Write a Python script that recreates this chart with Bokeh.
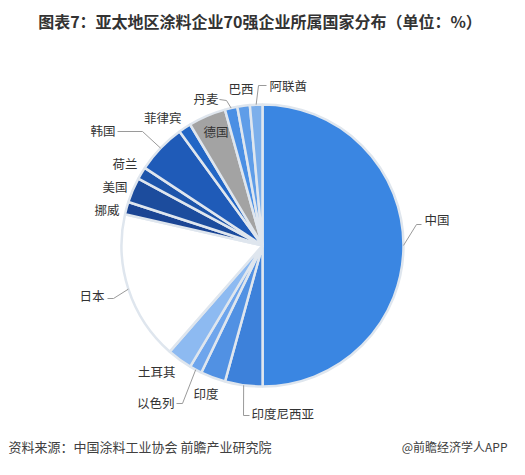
import numpy as np
from bokeh.plotting import figure
from bokeh.models import Range1d, ColumnDataSource
from bokeh.core.properties import value
from bokeh.embed import file_html
from bokeh.resources import INLINE

# ---------------- data ----------------
title_text = "图表7：亚太地区涂料企业70强企业所属国家分布（单位：%）"
source_text = "资料来源：中国涂料工业协会 前瞻产业研究院"
brand_text = "@前瞻经济学人APP"

countries = ["中国", "印度尼西亚", "印度", "以色列", "土耳其", "日本", "挪威", "美国",
             "荷兰", "韩国", "菲律宾", "德国", "丹麦", "巴西", "阿联酋"]
shares = [50.00, 4.29, 2.86, 1.43, 2.86, 17.14, 1.43, 2.86,
          1.43, 5.71, 1.43, 4.29, 1.43, 1.43, 1.43]
colors = ["#3a86e2", "#3d81da", "#5191e3", "#6ea5ec", "#8dbaf1", "#ffffff", "#1b4594", "#1c4c9d",
          "#1d55ab", "#1f5bb8", "#2266c5", "#a3a3a3", "#4a8fe4", "#5f9de8", "#7cafeb"]

# ---------------- layout ----------------
W, H = 509, 459
FONT = "Noto Sans CJK SC"


def X(px):
    return px


def Y(py):
    return H - py


CX, CY, R = X(262), Y(245), 141

# label positions (page px) and alignment
label_layout = {
    "中国": (424, 219, "left"),
    "印度尼西亚": (251, 412.5, "left"),
    "印度": (193, 392.5, "left"),
    "以色列": (174, 402, "right"),
    "土耳其": (175, 371, "right"),
    "日本": (104, 294.5, "right"),
    "挪威": (119, 208.5, "right"),
    "美国": (127, 186, "right"),
    "荷兰": (137, 163, "right"),
    "韩国": (115, 130, "right"),
    "菲律宾": (181, 117, "right"),
    "德国": (203, 131, "left"),
    "丹麦": (218, 97.5, "right"),
    "巴西": (253, 88, "right"),
    "阿联酋": (269, 84.5, "left"),
}
# leader elbows (page px)
leader_layout = {
    "中国": [(416, 224), (421, 224)],
    "印度尼西亚": [(243, 415), (249, 415)],
    "以色列": [(182, 403), (176, 403)],
    "日本": [(113, 298), (107, 298)],
    "韩国": [(142, 131), (117, 131)],
    "丹麦": [(226, 100), (219, 99)],
    "阿联酋": [(258, 85), (266, 85)],
}

p = figure(width=W, height=H, x_range=Range1d(0, W), y_range=Range1d(0, H),
           output_backend="svg", toolbar_location=None, min_border=0,
           outline_line_color=None, background_fill_color="white",
           border_fill_color="white")
p.axis.visible = False
p.grid.visible = False

frac = np.array(shares) / np.sum(shares)
cum = np.concatenate([[0.0], np.cumsum(frac)])
start = np.pi / 2 - 2 * np.pi * cum[:-1]
end = np.pi / 2 - 2 * np.pi * cum[1:]
mid = (start + end) / 2

src = ColumnDataSource(dict(country=countries, share=shares, color=colors,
                            start=start, end=end))
p.wedge(x=CX, y=CY, radius=R, start_angle="start", end_angle="end",
        direction="clock", fill_color="color", line_color="#dfe6ee",
        line_width=2.5, source=src)

# leader lines
xs, ys = [], []
for i, c in enumerate(countries):
    if c in leader_layout:
        ex = CX + R * np.cos(mid[i])
        ey = CY + R * np.sin(mid[i])
        pts = leader_layout[c]
        xs.append([ex] + [X(a) for a, b in pts])
        ys.append([ey] + [Y(b) for a, b in pts])
p.multi_line(xs=xs, ys=ys, line_color="#9a9a9a", line_width=1)

# labels
for align in ("left", "right"):
    names = [c for c in countries if label_layout[c][2] == align]
    p.text(x=[X(label_layout[c][0]) for c in names],
           y=[Y(label_layout[c][1]) for c in names],
           text=names, text_align=align, text_baseline="middle",
           text_font=value(FONT), text_font_size="12.5px", text_color="#333333")

# title
p.text(x=[X(259.5)], y=[Y(20)], text=[title_text], text_align="center",
       text_baseline="middle", text_font=value(FONT), text_font_size="16px",
       text_font_style="bold", text_color="#333333")

# footer
p.text(x=[X(8)], y=[Y(446)], text=[source_text], text_align="left",
       text_baseline="middle", text_font=value(FONT), text_font_size="13px",
       text_color="#404040")
p.text(x=[X(507)], y=[Y(446)], text=[brand_text], text_align="right",
       text_baseline="middle", text_font=value(FONT), text_font_size="12px",
       text_color="#404040")

open("out.html", "w").write(file_html(p, INLINE))
